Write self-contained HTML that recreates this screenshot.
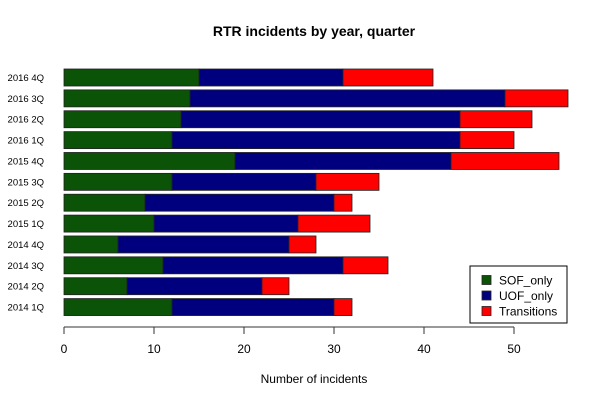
<!DOCTYPE html>
<html><head><meta charset="utf-8"><style>
body{margin:0;background:#fff;}
svg{display:block;font-family:"Liberation Sans",Arial,sans-serif;}
</style></head><body>
<svg id="chart" width="600" height="400" viewBox="0 0 600 400">
<text x="314" y="36" text-anchor="middle" font-size="14" font-weight="bold">RTR incidents by year, quarter</text>
<g id="bars"></g>
<g id="xaxis"></g>
<text x="314" y="383" text-anchor="middle" font-size="12">Number of incidents</text>
<g>
<rect x="470" y="266" width="97" height="57" fill="#fff" stroke="#000" stroke-width="1"/>
<g id="legend"></g>
</g>
</svg>
<script>
const categories = ["2014 1Q","2014 2Q","2014 3Q","2014 4Q","2015 1Q","2015 2Q","2015 3Q","2015 4Q","2016 1Q","2016 2Q","2016 3Q","2016 4Q"];
const sofOnly = [12,7,11,6,10,9,12,19,12,13,14,15];
const uofOnly = [18,15,20,19,16,21,16,24,32,31,35,16];
const transitions = [2,3,5,3,8,2,7,12,6,8,7,10];
const seriesNames = ["SOF_only","UOF_only","Transitions"];
const xTicks = [0,10,20,30,40,50];

const colors = ["#0b5306","#00007f","#ff0000"];
const NS = "http://www.w3.org/2000/svg";
const x0 = 64, pxPerUnit = 9.0;
function xs(v){ return x0 + v*pxPerUnit; }
const topY = 69, pitch = 20.87, barH = 17;
function ys(i){ return topY + (categories.length-1-i)*pitch; }
function mk(tag, attrs, parent){ const e=document.createElementNS(NS,tag); for(const k in attrs) e.setAttribute(k,attrs[k]); parent.appendChild(e); return e; }

const bars = document.getElementById('bars');
const series = [sofOnly, uofOnly, transitions];
categories.forEach((c,i)=>{
  const y = ys(i);
  let acc = 0;
  series.forEach((s,j)=>{
    const r = mk('rect',{x:xs(acc),y:y,width:s[i]*pxPerUnit,height:barH,fill:colors[j],stroke:"#222","stroke-width":0.8},bars);
    
    
    acc += s[i];
  });
  const t = mk('text',{x:44,y:y+barH/2+3.5,"text-anchor":"end","font-size":"9.5"},bars);
  t.textContent = c;
  
  
});

const xa = document.getElementById('xaxis');
const axLine = mk('line',{x1:xs(0),x2:xs(50),y1:327,y2:327,stroke:"#333"},xa);


xTicks.forEach(v=>{
  const tk = mk('line',{x1:xs(v),x2:xs(v),y1:327,y2:334,stroke:"#333"},xa);
  
  
  const t = mk('text',{x:xs(v),y:353,"text-anchor":"middle","font-size":"12"},xa);
  t.textContent = v;
  
  
});

const lg = document.getElementById('legend');
const ly = [280,295.5,311];
seriesNames.forEach((n,j)=>{
  const r = mk('rect',{x:482,y:ly[j]-4.5,width:9,height:9,fill:colors[j],stroke:"#222","stroke-width":0.8},lg);
  
  
  const t = mk('text',{x:499,y:ly[j]+4.5,"font-size":"12"},lg);
  t.textContent = n;
  
  
});
</script>
</body></html>
